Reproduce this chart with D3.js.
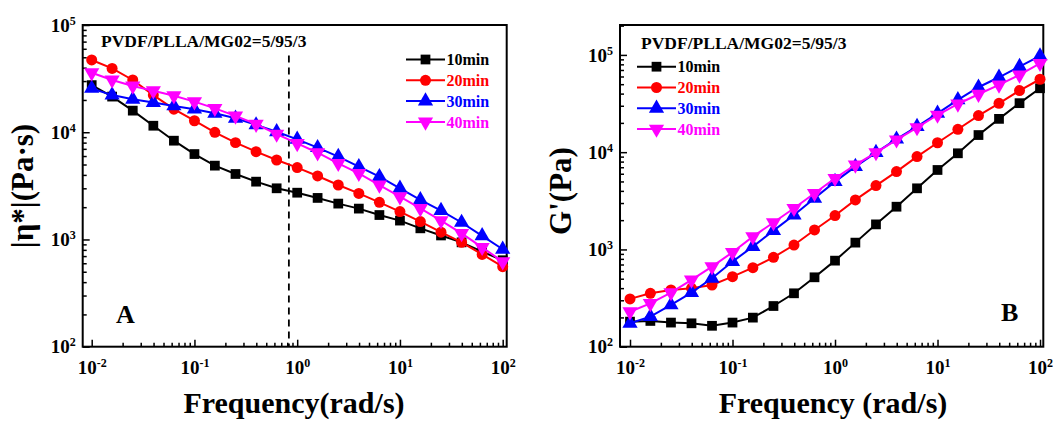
<!DOCTYPE html>
<html>
<head>
<meta charset="utf-8">
<script src="https://cdn.jsdelivr.net/npm/d3@7"></script>
<style>
  body { margin: 0; background: #fff; }
  svg { display: block; }
  text { font-family: "Liberation Serif", "Times New Roman", serif; font-weight: bold; }
</style>
</head>
<body>
<svg id="chart" width="1056" height="421"></svg>
<script>
// ---- data ----
const freq = [0.01, 0.0158, 0.0251, 0.0398, 0.0631, 0.1, 0.158, 0.251, 0.398, 0.631,
              1, 1.58, 2.51, 3.98, 6.31, 10, 15.8, 25.1, 39.8, 63.1, 100];
const seriesNames = ['10min', '20min', '30min', '40min'];
const seriesColors = ['#000000', '#ff0000', '#0000ff', '#ff00ff'];
const seriesSymbols = ['square', 'circle', 'up', 'down'];

// panel A: complex viscosity |eta*| (Pa.s)
const etaA10 = [27500, 21500, 15900, 11500, 8340, 6260, 4880, 4080, 3460, 3000,
                2730, 2440, 2160, 1940, 1690, 1500, 1270, 1090, 940, 770, 640];
const etaA20 = [47200, 39400, 30700, 22200, 16400, 12800, 9980, 8000, 6590, 5510,
                4680, 3910, 3220, 2690, 2220, 1820, 1470, 1170, 940, 726, 557];
const etaA30 = [25600, 22200, 20300, 18900, 17600, 16400, 15000, 13500, 11700, 10100,
                8590, 7180, 5920, 4770, 3850, 3000, 2340, 1860, 1440, 1080, 810];
const etaA40 = [35900, 30700, 27000, 24400, 21900, 19300, 16700, 14200, 11900, 9620,
                7870, 6440, 5130, 4140, 3220, 2510, 1950, 1500, 1140, 845, 620];

// panel B: storage modulus G' (Pa)
const gB10 = [181, 184, 177, 174, 164, 177, 199, 262, 354, 517,
              767, 1175, 1810, 2750, 4250, 6560, 9740, 15000, 22000, 31900, 45400];
const gB20 = [310, 354, 383, 398, 431, 525, 650, 830, 1110, 1585,
              2230, 3230, 4530, 6310, 9000, 12500, 17200, 23800, 31800, 43000, 56200];
const gB30 = [174, 204, 269, 360, 505, 750, 1070, 1560, 2260, 3360,
              4980, 7110, 9900, 13600, 18300, 25100, 34500, 46500, 58900, 75800, 97600];
const gB40 = [229, 279, 360, 486, 666, 935, 1355, 1890, 2650, 3780,
              5390, 7390, 9900, 13400, 17900, 24100, 31300, 39400, 49100, 62200, 82000];

const sampleLabel = 'PVDF/PLLA/MG02=5/95/3';
const dashFreq = 0.83;
const dashRange = [52000, 100];

const svg = d3.select('#chart');

function superLabel(sel, exp) {
  sel.text('');
  sel.append('tspan').text('10');
  sel.append('tspan').attr('dy', -7).style('font-size', '12px').text(exp);
}

function drawPanel(cfg) {
  const g = svg.append('g');
  const x = d3.scaleLog().domain(cfg.xDomain).range([cfg.left, cfg.right]);
  const y = d3.scaleLog().domain(cfg.yDomain).range([cfg.bottom, cfg.top]);

  const xMajor = [1e-2, 1e-1, 1e0, 1e1, 1e2];
  const xMinor = x.ticks().filter(v => v > 1e-2 && v < 1e2 && !xMajor.includes(v));
  const yMajor = cfg.yMajor;
  const yMinor = y.ticks().filter(v => v > cfg.yDomain[0] && v < cfg.yDomain[1] && !yMajor.includes(v));

  // minor ticks (inward)
  g.append('g').attr('transform', `translate(0,${cfg.bottom})`)
    .call(d3.axisBottom(x).tickValues(xMinor).tickSize(-4).tickFormat(''))
    .call(a => a.select('.domain').remove())
    .selectAll('line').attr('stroke-width', 1.5);
  g.append('g').attr('transform', `translate(${cfg.left},0)`)
    .call(d3.axisLeft(y).tickValues(yMinor).tickSize(-4).tickFormat(''))
    .call(a => a.select('.domain').remove())
    .selectAll('line').attr('stroke-width', 1.5);

  // major ticks + labels
  const xAx = g.append('g').attr('transform', `translate(0,${cfg.bottom})`)
    .call(d3.axisBottom(x).tickValues(xMajor).tickSize(-7).tickPadding(0))
    .call(a => a.select('.domain').remove());
  xAx.selectAll('line').attr('stroke-width', 1.5);
  xAx.selectAll('text')
    .attr('y', 27).attr('dy', 0)
    .style('font-size', '19px').attr('fill', '#000')
    .each(function(d) { superLabel(d3.select(this), String(Math.round(Math.log10(d)))); });

  const yAx = g.append('g').attr('transform', `translate(${cfg.left},0)`)
    .call(d3.axisLeft(y).tickValues(yMajor).tickSize(-7))
    .call(a => a.select('.domain').remove());
  yAx.selectAll('line').attr('stroke-width', 1.5);
  yAx.selectAll('text')
    .attr('x', -7).attr('dy', '0.32em')
    .style('font-size', '19px').attr('fill', '#000')
    .attr('text-anchor', 'end')
    .each(function(d) { superLabel(d3.select(this), String(Math.round(Math.log10(d)))); });

  // frame
  g.append('rect')
    .attr('x', cfg.left).attr('y', cfg.top)
    .attr('width', cfg.right - cfg.left).attr('height', cfg.bottom - cfg.top)
    .attr('fill', 'none').attr('stroke', '#000').attr('stroke-width', 2);

  if (cfg.dash) {
    g.append('line')
      .attr('x1', x(dashFreq)).attr('x2', x(dashFreq))
      .attr('y1', y(dashRange[0])).attr('y2', y(dashRange[1]))
      .attr('stroke', '#000').attr('stroke-width', 1.8)
      .attr('stroke-dasharray', '7,5');
  }

  const line = d3.line().x(d => x(d[0])).y(d => y(d[1]));
  cfg.series.forEach((vals, i) => {
    const pts = freq.map((f, k) => [f, vals[k]]);
    g.append('path').datum(pts)
      .attr('d', line).attr('fill', 'none')
      .attr('stroke', seriesColors[i]).attr('stroke-width', 2);
    g.selectAll(null).data(pts).enter().append('path')
      .attr('transform', d => `translate(${x(d[0])},${y(d[1])})` + (seriesSymbols[i] === 'down' ? ' rotate(180)' : ''))
      .attr('d', symbolPath(seriesSymbols[i]))
      .attr('fill', seriesColors[i]);
  });

  // legend
  seriesNames.forEach((name, i) => {
    const ly = cfg.legendY + i * 20.8;
    g.append('line')
      .attr('x1', cfg.legendX).attr('x2', cfg.legendX + 39)
      .attr('y1', ly).attr('y2', ly)
      .attr('stroke', seriesColors[i]).attr('stroke-width', 2);
    g.append('path')
      .attr('transform', `translate(${cfg.legendX + 19.5},${ly})` + (seriesSymbols[i] === 'down' ? ' rotate(180)' : ''))
      .attr('d', symbolPath(seriesSymbols[i]))
      .attr('fill', seriesColors[i]);
    g.append('text')
      .attr('x', cfg.legendX + 40.5).attr('y', ly).attr('dy', '0.35em')
      .style('font-size', '16px').attr('fill', seriesColors[i])
      .text(name);
  });

  g.append('text')
    .attr('x', cfg.noteX).attr('y', cfg.noteY)
    .style('font-size', '17.5px').text(sampleLabel);

  g.append('text')
    .attr('x', cfg.letterX).attr('y', cfg.letterY)
    .style('font-size', '26px').text(cfg.letter);

  g.append('text')
    .attr('x', cfg.xTitleX).attr('y', 413)
    .attr('text-anchor', 'middle')
    .style('font-size', '30px').text(cfg.xTitle);

  g.append('text')
    .attr('transform', `translate(${cfg.yTitleX},${cfg.yTitleY}) rotate(-90)`)
    .attr('text-anchor', 'middle')
    .style('font-size', '31px').text(cfg.yTitle);
}

function symbolPath(kind) {
  if (kind === 'square') return d3.symbol(d3.symbolSquare, 95)();
  if (kind === 'circle') return d3.symbol(d3.symbolCircle, 95)();
  return d3.symbol(d3.symbolTriangle, 100)();
}

drawPanel({
  left: 82.7, right: 506.7, top: 25, bottom: 346.7,
  xDomain: [Math.pow(10, -2.0876), Math.pow(10, 2.039)],
  yDomain: [1e2, 1e5], yMajor: [1e2, 1e3, 1e4, 1e5],
  series: [etaA10, etaA20, etaA30, etaA40],
  dash: true,
  legendX: 406, legendY: 59.5,
  noteX: 101, noteY: 46.5,
  letter: 'A', letterX: 116, letterY: 323,
  xTitle: 'Frequency(rad/s)', xTitleX: 294,
  yTitle: '|\u03b7*|(Pa\u00b7s)', yTitleX: 33, yTitleY: 186
});

drawPanel({
  left: 620, right: 1043.3, top: 25, bottom: 346.7,
  xDomain: [Math.pow(10, -2.0976), Math.pow(10, 2.032)],
  yDomain: [1e2, 2.03e5], yMajor: [1e2, 1e3, 1e4, 1e5],
  series: [gB10, gB20, gB30, gB40],
  dash: false,
  legendX: 637, legendY: 66.7,
  noteX: 641, noteY: 48.5,
  letter: 'B', letterX: 1001, letterY: 321,
  xTitle: 'Frequency (rad/s)', xTitleX: 833,
  yTitle: "G'(Pa)", yTitleX: 571, yTitleY: 191
});
</script>
</body>
</html>
